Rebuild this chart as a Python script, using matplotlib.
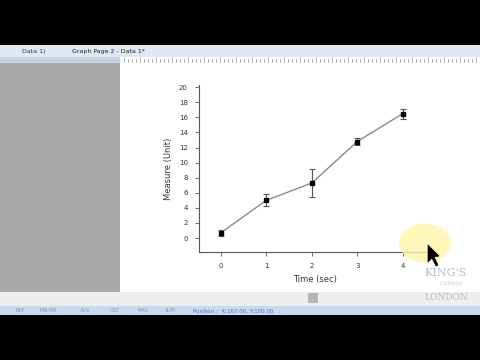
import matplotlib.pyplot as plt
import matplotlib.patches as patches

# data
time = [0, 1, 2, 3, 4]
measure = [0.7, 5.0, 7.3, 12.8, 16.5]
error = [0.4, 0.8, 1.8, 0.5, 0.65]
y_ticks = [0, 2, 4, 6, 8, 10, 12, 14, 16, 18, 20]

W, H = 480, 360
fig = plt.figure(figsize=(4.8, 3.6), dpi=100)
fig.patch.set_facecolor('white')


def box(x, y, w, h, color, z=0, **kw):
    """rect in pixel coords, y from top"""
    r = patches.Rectangle((x / W, 1 - (y + h) / H), w / W, h / H,
                          transform=fig.transFigure, fc=color, ec='none',
                          zorder=z, **kw)
    fig.add_artist(r)
    return r


# window background
box(0, 0, 480, 45, 'black')
box(0, 45, 480, 12, '#dfe8f3')
box(0, 57, 120, 6, '#c8d2de')
box(120, 57, 360, 6, 'white')
box(0, 63, 120, 229, '#a9a9a9')
box(0, 292, 480, 14, '#eeeeee')
box(308, 293, 10, 10, '#b5b5b5')
box(0, 306, 480, 9, '#c9d9ee')
box(0, 315, 480, 45, 'black')

# ruler ticks
for i in range(124, 480, 4):
    h = 3 if (i - 124) % 16 else 5
    fig.add_artist(plt.Line2D([i / W, i / W], [1 - 62 / H, 1 - (62 - h) / H],
                              transform=fig.transFigure, color='#777777', lw=0.4))

fig.text(22 / W, 1 - 51 / H, 'Data 1)', fontsize=4.5, color='#333333', va='center')
fig.text(72 / W, 1 - 51 / H, 'Graph Page 2 - Data 1*', fontsize=4.5, color='#222222',
         va='center')
fig.text(193 / W, 1 - 311 / H, 'Position :  X:167.00, Y:100.00', fontsize=4,
         color='#5577aa', va='center')
for x0, s in [(15, 'REF'), (40, 'MN-MX'), (80, 'AVG'), (110, 'CNT'), (137, 'MAX'), (165, 'SUM')]:
    fig.text(x0 / W, 1 - 311 / H, s, fontsize=3.5, color='#7f99bb', va='center')

# plot area
ax = fig.add_axes([199 / W, (H - 252) / H, 231 / W, 167 / H])
ax.set_facecolor('none')
ax.errorbar(time, measure, yerr=error, color='#8a8a8a', lw=1.0,
            ecolor='#555555', elinewidth=0.8, capsize=2, capthick=0.8,
            marker='s', ms=2.6, mfc='black', mec='black', zorder=3)
ax.set_xlim(-0.48, 4.6)
ax.set_ylim(-1.85, 20.3)
ax.set_xticks(time)
ax.set_yticks(y_ticks)
for s in ['top', 'right']:
    ax.spines[s].set_visible(False)
for s in ['left', 'bottom']:
    ax.spines[s].set_color('#555555')
    ax.spines[s].set_linewidth(0.8)
ax.tick_params(direction='out', length=3, width=0.6, colors='#555555',
               labelsize=5, labelcolor='#333333', pad=5)
ax.set_xlabel('Time (sec)', fontsize=6, color='#333333', labelpad=4)
ax.set_ylabel('Measure (Unit)', fontsize=6, color='#333333', labelpad=4)

# cursor highlight
hl = patches.Circle((425 / W, 1 - 243 / H), 26 / W, transform=fig.transFigure,
                    fc='#fff6a8', ec='none', alpha=0.8, zorder=5)
fig.add_artist(hl)
arrow = patches.Polygon([(428 / W, 1 - 245 / H), (428 / W, 1 - 262 / H),
                         (432 / W, 1 - 258 / H), (436 / W, 1 - 266 / H),
                         (438 / W, 1 - 265 / H), (434 / W, 1 - 257 / H),
                         (439 / W, 1 - 256 / H)],
                        closed=True, transform=fig.transFigure, fc='black',
                        ec='black', lw=0.5, zorder=6)
fig.add_artist(arrow)

# logo
fig.text(446 / W, 1 - 273 / H, "KING'S", fontsize=8, family='DejaVu Serif',
         color='#b8bcc4', ha='center', va='center')
fig.text(452 / W, 1 - 284 / H, 'College', fontsize=4.5, family='DejaVu Serif',
         style='italic', color='#c5c8ce', ha='center', va='center')
fig.text(446 / W, 1 - 297 / H, 'LONDON', fontsize=6.5, family='DejaVu Serif',
         color='#b8bcc4', ha='center', va='center')

fig.savefig('out.png', dpi=100)
